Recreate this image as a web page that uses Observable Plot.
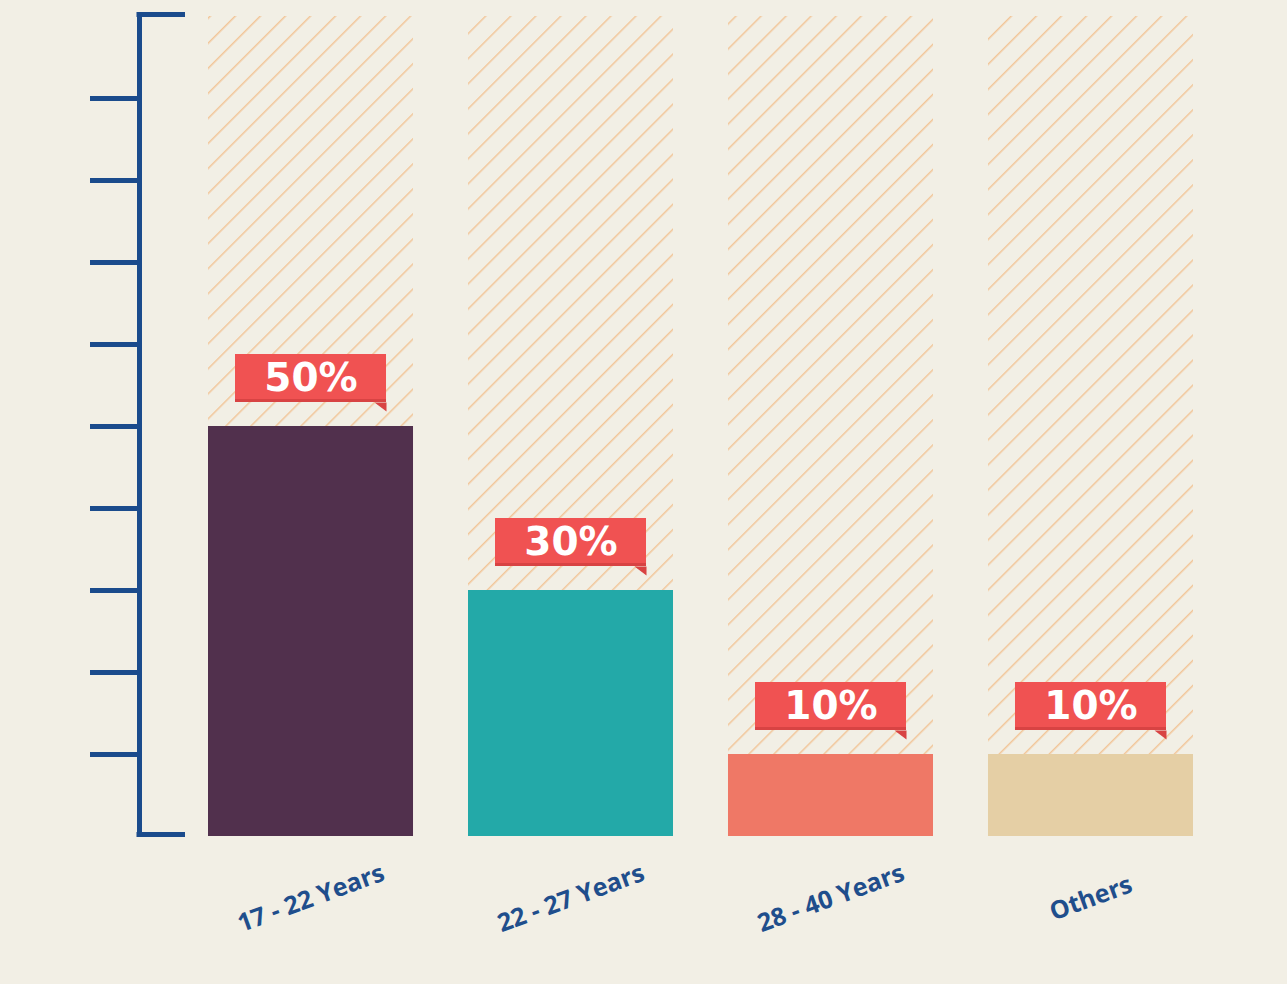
<!DOCTYPE html>
<html>
<head>
<meta charset="utf-8">
<script src="https://cdn.jsdelivr.net/npm/d3@7"></script>
<script src="https://cdn.jsdelivr.net/npm/@observablehq/plot@0.6"></script>
<style>
  html, body { margin: 0; padding: 0; background: #f2efe5; }
  #chart svg { display: block; }
</style>
</head>
<body>
<div id="chart"></div>
<script>
// ---- data ----
const categories = ["17 - 22 Years", "22 - 27 Years", "28 - 40 Years", "Others"];
const percents = [50, 30, 10, 10];
const barColors = ["#51304d", "#23a9a8", "#ef7866", "#e5cfa5"];
const yTicks = [10, 20, 30, 40, 50, 60, 70, 80, 90];
const yEnds = [0, 100];
const yMax = 100;

const rows = categories.map((c, i) => ({cat: c, value: percents[i], label: percents[i] + "%"}));

const W = 1287, H = 984;
const mLeft = 180.5, mRight = 66.5, mTop = 16, mBottom = 148;
const frameW = W - mLeft - mRight;
const axisColor = "#1b4b8c";
const boxColor = "#f05252";

const tail = {
  draw(ctx) {
    ctx.moveTo(-12, 0);
    ctx.lineTo(0, 0);
    ctx.lineTo(0, 9);
    ctx.closePath();
  }
};

const svg = Plot.plot({
  width: W,
  height: H,
  marginLeft: mLeft,
  marginRight: mRight,
  marginTop: mTop,
  marginBottom: mBottom,
  style: {background: "#f2efe5", overflow: "visible"},
  x: {domain: categories, paddingInner: 0.2115, paddingOuter: 0.1058, axis: null, round: false},
  y: {domain: [0, yMax], axis: null},
  color: {domain: categories, range: barColors},
  marks: [
    // hatched full-height backgrounds
    Plot.barY(rows, {x: "cat", y: () => yMax, fill: "url(#hatch)"}),
    // data bars
    Plot.barY(rows, {x: "cat", y: "value", fill: "cat"}),
    // label flag box
    Plot.barY(rows, {x: "cat", y1: "value", y2: "value", insetTop: -48, dy: -24, insetLeft: 27, insetRight: 27, fill: boxColor}),
    // darker bottom edge of flag
    Plot.barY(rows, {x: "cat", y1: "value", y2: "value", insetTop: -3, dy: -24, insetLeft: 27, insetRight: 27, fill: "#d84343"}),
    // flag tail
    Plot.dot(rows, {x: "cat", y: "value", dx: 75.5, dy: -24, symbol: tail, fill: "#d84343", r: 5}),
    // percentage text
    Plot.text(rows, {x: "cat", y: "value", dy: -48, text: "label", fill: "#ffffff", fontSize: 39, fontWeight: "bold", fontFamily: "DejaVu Sans", lineAnchor: "middle", textAnchor: "middle"}),
    // y bracket axis: vertical
    Plot.frame({anchor: "left", dx: -41.5, stroke: axisColor, strokeWidth: 5, insetTop: -2, insetBottom: 2}),
    // y bracket top & bottom
    Plot.ruleY(yEnds, {dx: -41.5, dy: -2, insetLeft: -2.5, insetRight: frameW - 46, stroke: axisColor, strokeWidth: 5}),
    // y ticks
    Plot.ruleY(yTicks, {dx: -90.5, insetRight: frameW - 49, stroke: axisColor, strokeWidth: 5}),
    // x labels
    Plot.text(rows, {x: "cat", frameAnchor: "bottom", dy: 62, text: "cat", rotate: -20, fill: "#1f4e8c", fontSize: 25, fontWeight: "bold", fontFamily: "Open Sans", lineAnchor: "middle", textAnchor: "middle"})
  ]
});

// hatch pattern definition
const ns = "http://www.w3.org/2000/svg";
const defs = document.createElementNS(ns, "defs");
defs.innerHTML = `<pattern id="hatch" patternUnits="userSpaceOnUse" width="17.7" height="17.7" patternTransform="rotate(45)">
  <rect width="17.7" height="17.7" fill="#f2efe5"/>
  <line x1="0" y1="0" x2="0" y2="17.7" stroke="#f2c699" stroke-width="3"/>
</pattern>`;
svg.insertBefore(defs, svg.firstChild);

document.getElementById("chart").appendChild(svg);
</script>
</body>
</html>
